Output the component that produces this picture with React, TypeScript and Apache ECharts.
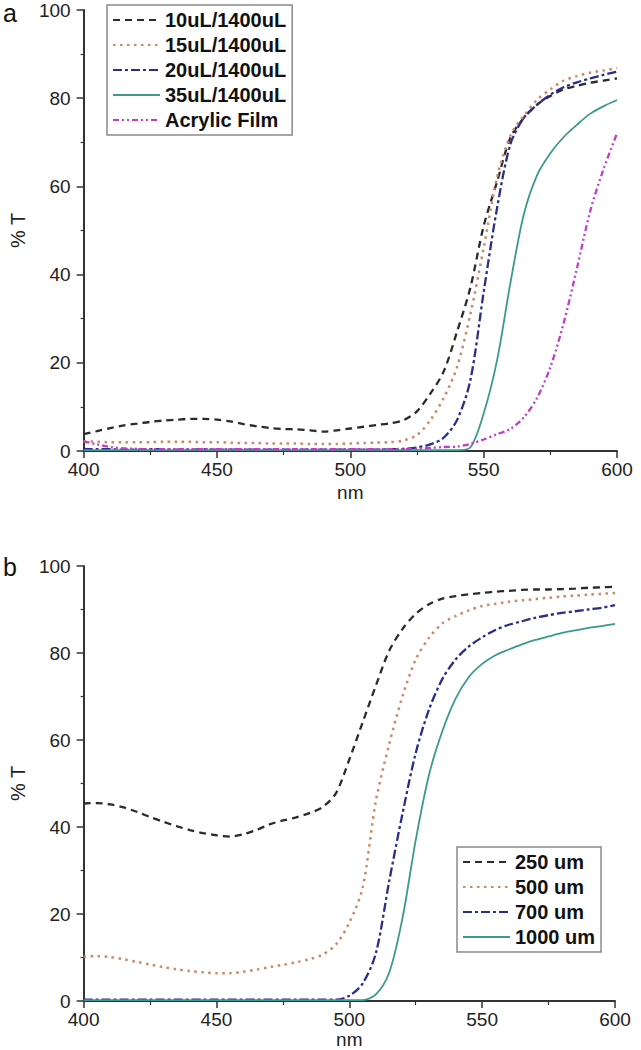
import React, { useEffect, useRef } from "react";
import * as echarts from "echarts";

const wavelengths = [
  400, 405, 410, 415, 420, 425, 430, 435, 440, 445, 450, 455, 460, 465, 470, 475, 480, 485, 490, 495,
  500, 505, 510, 515, 520, 525, 530, 535, 540, 545, 550, 555, 560, 565, 570, 575, 580, 585, 590, 595, 600,
];
const xTicks = [400, 450, 500, 550, 600];
const yTicks = [0, 20, 40, 60, 80, 100];

// Panel a
const namesA = ["10uL/1400uL", "15uL/1400uL", "20uL/1400uL", "35uL/1400uL", "Acrylic Film"];
const a10 = [3.8, 4.5, 5.2, 5.8, 6.2, 6.6, 6.9, 7.1, 7.3, 7.3, 7.1, 6.7, 6.1, 5.6, 5.2, 5.0, 4.9, 4.7, 4.4, 4.7,
  5.1, 5.5, 5.9, 6.3, 7.0, 9.0, 13, 18, 27, 37, 51, 61, 71, 75.5, 78.5, 80.5, 82, 82.8, 83.5, 84, 84.5];
const a15 = [2.2, 2.1, 2.0, 2.0, 2.0, 2.0, 2.1, 2.1, 2.1, 2.0, 2.0, 1.9, 1.8, 1.8, 1.7, 1.7, 1.7, 1.6, 1.6, 1.6,
  1.7, 1.8, 1.9, 2.0, 2.4, 3.6, 7, 12, 19, 31, 46, 62, 71.5, 76, 79.6, 82, 84, 85, 85.8, 86.3, 86.8];
const a20 = [0.5, 0.4, 0.4, 0.3, 0.3, 0.4, 0.4, 0.3, 0.3, 0.4, 0.3, 0.3, 0.3, 0.3, 0.3, 0.3, 0.3, 0.3, 0.3, 0.3,
  0.3, 0.3, 0.3, 0.4, 0.5, 0.8, 1.5, 3, 7, 16, 36, 55, 69.5, 75.5, 78.5, 80.8, 82.5, 83.6, 84.5, 85.3, 86];
const a35 = [0.2, 0.2, 0.2, 0.2, 0.2, 0.2, 0.2, 0.2, 0.2, 0.2, 0.2, 0.2, 0.2, 0.2, 0.2, 0.2, 0.2, 0.2, 0.2, 0.2,
  0.2, 0.2, 0.2, 0.2, 0.2, 0.2, 0.2, 0.2, 0.2, 0.8, 8.5, 20.5, 38, 53.5, 62.5, 67.5, 71.2, 74, 76.5, 78.2, 79.6];
const aAcrylic = [2.2, 1.5, 0.9, 0.6, 0.5, 0.4, 0.4, 0.4, 0.4, 0.4, 0.4, 0.4, 0.4, 0.4, 0.4, 0.4, 0.4, 0.4, 0.4, 0.4,
  0.4, 0.4, 0.4, 0.4, 0.4, 0.5, 0.7, 0.9, 1.0, 1.6, 2.6, 3.8, 5.0, 7.6, 12, 19, 29, 41.5, 54.5, 64, 72];

// Panel b
const namesB = ["250 um", "500 um", "700 um", "1000 um"];
const b250 = [45.4, 45.5, 45.2, 44.5, 43.5, 42.3, 41.2, 40.2, 39.3, 38.6, 38.1, 37.8, 38.3, 39.3, 40.6, 41.5, 42.2, 43.2, 44.6, 47.8,
  55.5, 64, 72.5, 80.5, 85.5, 89, 91.2, 92.5, 93.1, 93.5, 93.8, 94.1, 94.3, 94.5, 94.6, 94.6, 94.7, 94.8, 95, 95.1, 95.2];
const b500 = [10.2, 10.3, 10.1, 9.6, 9.0, 8.4, 7.8, 7.3, 6.9, 6.6, 6.4, 6.4, 6.7, 7.2, 7.8, 8.3, 8.9, 9.6, 10.7, 13,
  18, 26, 46, 59, 70, 78.5, 83.5, 86.8, 88.5, 89.8, 90.8, 91.3, 91.8, 92.1, 92.4, 92.7, 93, 93.2, 93.4, 93.6, 93.8];
const b700 = [0.3, 0.3, 0.3, 0.3, 0.3, 0.3, 0.3, 0.3, 0.3, 0.3, 0.3, 0.3, 0.3, 0.3, 0.3, 0.3, 0.3, 0.3, 0.3, 0.3,
  1.2, 4, 11, 27.5, 43, 57, 67, 74, 78.5, 81.5, 83.6, 85.3, 86.5, 87.3, 88.1, 88.7, 89.2, 89.6, 90, 90.4, 91];
const b1000 = [0.2, 0.2, 0.2, 0.2, 0.2, 0.2, 0.2, 0.2, 0.2, 0.2, 0.2, 0.2, 0.2, 0.2, 0.2, 0.2, 0.2, 0.2, 0.2, 0.2,
  0.2, 0.2, 1.5, 6.5, 19, 37, 52, 62, 69.5, 74.5, 77.5, 79.5, 80.8, 82, 83, 83.8, 84.6, 85.2, 85.8, 86.2, 86.7];

const FONT = "'Liberation Sans', Arial, Helvetica, sans-serif";
const INK = "#222";

const styles = [
  { color: "#2b2b2b", width: 2.3, type: [7, 5] },
  { color: "#c98868", width: 2.5, type: [2.5, 4.5] },
  { color: "#2c2c8c", width: 2.3, type: [9, 3, 3, 3] },
  { color: "#3b9a8c", width: 1.8, type: "solid" },
  { color: "#c23cc8", width: 2.3, type: [6, 3, 2, 3, 2, 3] },
];

const pairs = (vals: number[]) => wavelengths.map((w, i) => [w, vals[i]]);

function xAxis(gridIndex: number, nameGap: number) {
  return {
    type: "value",
    gridIndex,
    min: xTicks[0],
    max: xTicks[xTicks.length - 1],
    interval: xTicks[1] - xTicks[0],
    name: "nm",
    nameLocation: "middle",
    nameGap,
    nameTextStyle: { fontSize: 19, color: INK, fontFamily: FONT },
    axisLine: { show: true, lineStyle: { color: "#333", width: 2 } },
    axisTick: { show: true, length: 7, lineStyle: { color: "#333", width: 1.5 } },
    minorTick: { show: true, splitNumber: 2, length: 4, lineStyle: { color: "#333", width: 1.2 } },
    axisLabel: { fontSize: 19, color: INK, fontFamily: FONT, margin: 9, showMinLabel: true, showMaxLabel: true },
    splitLine: { show: false },
  };
}
function yAxis(gridIndex: number) {
  return {
    type: "value",
    gridIndex,
    min: yTicks[0],
    max: yTicks[yTicks.length - 1],
    interval: yTicks[1] - yTicks[0],
    name: "% T",
    nameLocation: "middle",
    nameGap: 50,
    nameRotate: 90,
    nameTextStyle: { fontSize: 20, color: INK, fontFamily: FONT },
    axisLine: { show: true, lineStyle: { color: "#333", width: 2 } },
    axisTick: { show: true, length: 7, lineStyle: { color: "#333", width: 1.5 } },
    minorTick: { show: true, splitNumber: 2, length: 3, lineStyle: { color: "#333", width: 1.2 } },
    axisLabel: { fontSize: 19, color: INK, fontFamily: FONT, margin: 13, showMinLabel: true, showMaxLabel: true },
    splitLine: { show: false },
  };
}

function legend(data: string[], left: number, top: number) {
  return {
    data,
    left,
    top,
    orient: "vertical",
    itemWidth: 47,
    itemHeight: 14,
    itemGap: 5,
    padding: [5, 6, 5, 5],
    borderColor: "#8a8a8a",
    borderWidth: 1.5,
    backgroundColor: "#fff",
    itemStyle: { opacity: 0 },
    textStyle: { fontSize: 20, fontWeight: "bold", color: "#111", fontFamily: FONT },
    selectedMode: false,
  };
}

function line(name: string, vals: number[], idx: number, s: any) {
  return {
    name,
    type: "line",
    xAxisIndex: idx,
    yAxisIndex: idx,
    data: pairs(vals),
    symbol: "none",
    smooth: 0.3,
    lineStyle: { color: s.color, width: s.width, type: s.type },
    itemStyle: { color: s.color },
  };
}

const seriesA = [a10, a15, a20, a35, aAcrylic];
const seriesB = [b250, b500, b700, b1000];

export default function App() {
  const ref = useRef<HTMLDivElement>(null);
  useEffect(() => {
    document.body.style.margin = "0";
    const chart = echarts.init(ref.current!, null, { renderer: "svg" });
    chart.setOption({
      animation: false,
      backgroundColor: "#fff",
      grid: [
        { left: 73, right: 24, top: 10, height: 441 },
        { left: 73, right: 26, top: 566, height: 438 },
      ],
      xAxis: [xAxis(0, 32), xAxis(1, 29)],
      yAxis: [yAxis(0), yAxis(1)],
      legend: [legend(namesA, 107, 5), legend(namesB, 457, 847)],
      graphic: [
        { type: "text", left: 3, top: 0, style: { text: "a", fontSize: 25, fill: "#111", fontFamily: FONT } },
        { type: "text", left: 3, top: 554, style: { text: "b", fontSize: 25, fill: "#111", fontFamily: FONT } },
      ],
      series: [
        ...seriesA.map((v, i) => line(namesA[i], v, 0, styles[i])),
        ...seriesB.map((v, i) => line(namesB[i], v, 1, styles[i])),
      ],
    });
    return () => chart.dispose();
  }, []);
  return <div ref={ref} style={{ width: 641, height: 1050 }} />;
}
